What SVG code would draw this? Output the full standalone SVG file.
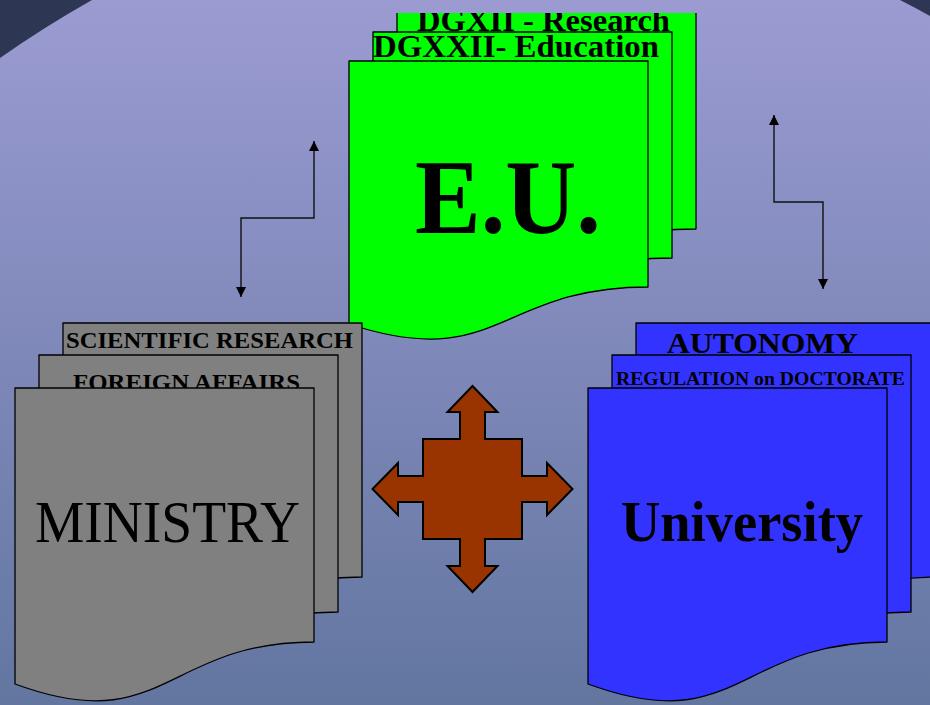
<svg xmlns="http://www.w3.org/2000/svg" width="930" height="705" viewBox="0 0 930 705">
<defs>
<linearGradient id="bg" x1="0" y1="0" x2="0" y2="705" gradientUnits="userSpaceOnUse">
<stop offset="0" stop-color="#9b9bd2"/>
<stop offset="1" stop-color="#6276a0"/>
</linearGradient>
<marker id="ah" viewBox="0 0 10 10" refX="10" refY="5" markerWidth="10" markerHeight="10" markerUnits="userSpaceOnUse" orient="auto-start-reverse">
<path d="M0,0 L10,5 L0,10 Z" fill="#000"/>
</marker>
<clipPath id="topclip"><rect x="0" y="13" width="930" height="692"/></clipPath>
</defs>
<style>
.page{stroke:#000;stroke-width:1.3;stroke-linejoin:round}
.g{fill:#00ff00}
.m{fill:#808080}
.u{fill:#3333ff}
.t{font-family:"Liberation Serif","Times New Roman",serif;fill:#000}
.b{font-weight:bold}
.conn{fill:none;stroke:#111;stroke-width:1.4}
</style>
<rect width="930" height="705" fill="url(#bg)"/>
<path d="M0,0 L92,0 Q44,27 0,58 Z" fill="#2d3652"/>
<path d="M900,0 L930,0 L930,16 Q914,7 900,0 Z" fill="#2d3652"/>

<g id="eu">
<g clip-path="url(#topclip)">
<path class="page g" d="M397,3 H696 V229 C546.5,229 546.5,315 397,266 Z"/>
<text class="t b" x="417" y="31" font-size="32" textLength="253" lengthAdjust="spacingAndGlyphs">DGXII - Research</text>
</g>
<path class="page g" d="M373,32 H672 V258 C522.5,258 522.5,344 373,295 Z"/>
<text class="t b" x="373" y="57" font-size="32" textLength="286" lengthAdjust="spacingAndGlyphs">DGXXII- Education</text>
<path class="page g" d="M349,61 H648 V287 C498.5,287 498.5,373 349,324 Z"/>
<text class="t b" x="415" y="233" font-size="106" textLength="186" lengthAdjust="spacingAndGlyphs">E.U.</text>
</g>

<g id="ministry">
<path class="page m" d="M63,323 H362 V577 C212.5,577 212.5,674 63,619 Z"/>
<text class="t b" x="66" y="348" font-size="24" textLength="287" lengthAdjust="spacingAndGlyphs">SCIENTIFIC RESEARCH</text>
<path class="page m" d="M39,355 H338 V612 C188.5,612 188.5,709 39,654 Z"/>
<text class="t b" x="73" y="390" font-size="24" textLength="227" lengthAdjust="spacingAndGlyphs">FOREIGN AFFAIRS</text>
<path class="page m" d="M15,388 H314 V642 C164.5,642 164.5,739 15,684 Z"/>
<text class="t" x="35" y="542" font-size="59" textLength="265" lengthAdjust="spacingAndGlyphs">MINISTRY</text>
</g>

<g id="university">
<path class="page u" d="M636,323 H935 V577 C785.5,577 785.5,674 636,619 Z"/>
<text class="t b" x="667" y="353" font-size="30" textLength="191" lengthAdjust="spacingAndGlyphs">AUTONOMY</text>
<path class="page u" d="M612,355 H911 V612 C761.5,612 761.5,709 612,654 Z"/>
<text class="t b" x="616" y="385" font-size="19.5" textLength="289" lengthAdjust="spacingAndGlyphs">REGULATION on DOCTORATE</text>
<path class="page u" d="M588,388 H887 V642 C737.5,642 737.5,739 588,684 Z"/>
<text class="t b" x="621" y="541" font-size="58" textLength="242" lengthAdjust="spacingAndGlyphs">University</text>
</g>

<g id="cross">
<path d="M472.5,386 L497.5,412 L485,412 L485,439 L522,439 L522,476 L547,476 L547,463 L572.5,489 L547,515 L547,502 L522,502 L522,539 L485,539 L485,566 L497.5,566 L472.5,592 L447.5,566 L460,566 L460,539 L423,539 L423,502 L398,502 L398,515 L372.5,489 L398,463 L398,476 L423,476 L423,439 L460,439 L460,412 L447.5,412 Z" fill="#993300" stroke="#000" stroke-width="2" stroke-linejoin="miter"/>
</g>

<g id="connectors">
<path class="conn" d="M314,141 V218 H241 V297" marker-start="url(#ah)" marker-end="url(#ah)"/>
<path class="conn" d="M774,115 V202 H823 V289" marker-start="url(#ah)" marker-end="url(#ah)"/>
</g>
</svg>
